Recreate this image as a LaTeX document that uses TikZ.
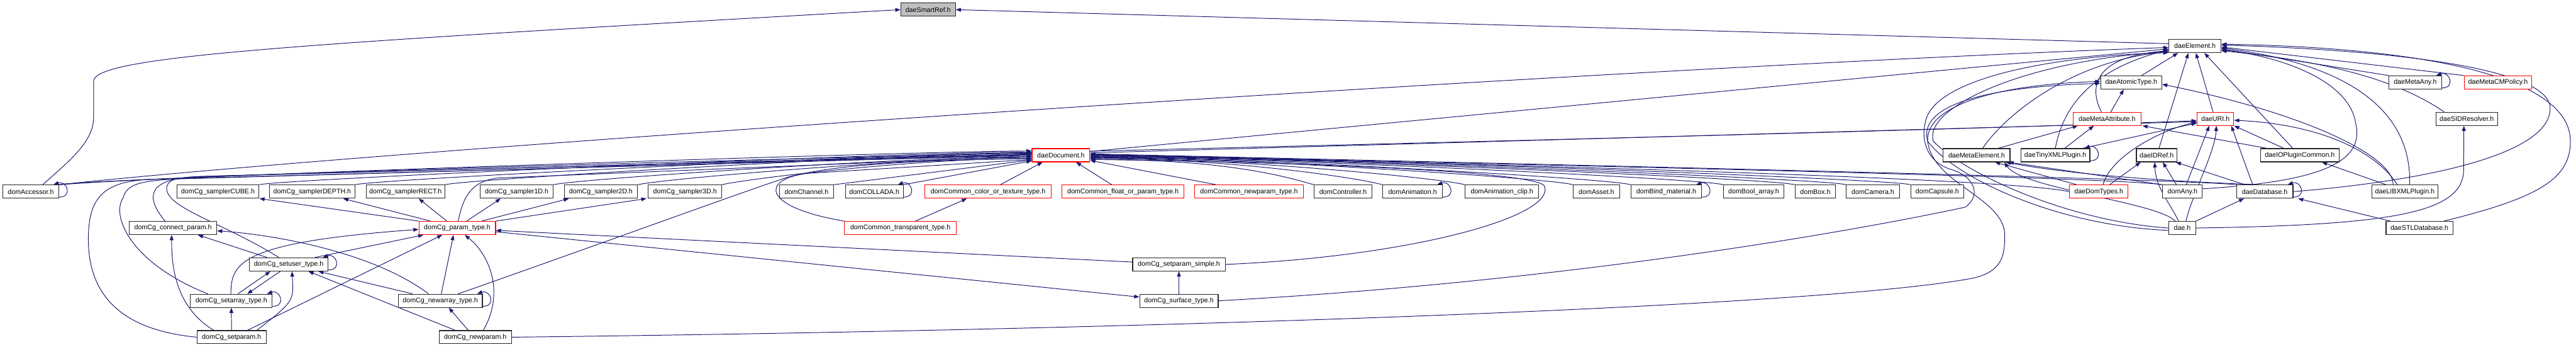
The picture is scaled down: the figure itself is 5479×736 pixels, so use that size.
\documentclass[tikz,border=0pt]{standalone}
\usepackage{fontspec}
\newfontfamily\dxf{Liberation Sans}
\usetikzlibrary{arrows.meta,backgrounds}
\definecolor{mblue}{RGB}{25,25,112}
\newcommand{\bx}[6]{\node[#1, minimum width={(#4-#3)*1pt}] (#2) at ({(#3+#4)/2},#5) {#6};}
\newcommand{\sloop}[1]{\draw[dep] ([yshift=3pt]#1.south east) .. controls +(30,0) and +(28,10) .. ([xshift=-12pt]#1.north east);}
\newcommand{\toDL}[2]{\draw[dep] (#1.north east) .. controls +(50,12) and +(-250,0) .. ([yshift=#2pt]doc.west);}
\newcommand{\toDR}[2]{\draw[dep] (#1.north west) .. controls +(-50,14) and +(300,0) .. ([yshift=#2pt]doc.east);}
\begin{document}
\begin{tikzpicture}[x=1pt,y=1pt,
  box/.style={draw=black!85,line width=1.5pt,fill=white,inner sep=0pt,minimum height=28pt,font=\dxf\fontsize{14.3}{16}\selectfont},
  rbox/.style={box,draw=red},
  gbox/.style={box,fill=black!25},
  dep/.style={draw=mblue,line width=1.3pt,-{Triangle[length=11pt,width=8pt]}}]
\useasboundingbox (0,0) rectangle (5479,-736);
% nodes
\bx{gbox}{sr}{1916}{2032}{-20.5}{daeSmartRef.h}
\bx{box}{el}{4613}{4724}{-97.8}{daeElement.h}
\bx{box}{at}{4468}{4598}{-175.1}{daeAtomicType.h}
\bx{box}{many}{5081}{5193}{-175.1}{daeMetaAny.h}
\bx{rbox}{cmp}{5241}{5385}{-175.1}{daeMetaCMPolicy.h}
\bx{rbox}{ma}{4409}{4554}{-252.4}{daeMetaAttribute.h}
\bx{rbox}{uri}{4673}{4751}{-252.4}{daeURI.h}
\bx{box}{sid}{5181}{5312}{-252.4}{daeSIDResolver.h}
\bx{rbox}{doc}{2195}{2318}{-329.7}{daeDocument.h}
\bx{box}{me}{4133}{4275}{-329.7}{daeMetaElement.h}
\bx{box}{txml}{4298}{4445}{-329.7}{daeTinyXMLPlugin.h}
\bx{box}{idref}{4544}{4630}{-329.7}{daeIDRef.h}
\bx{box}{iopc}{4808}{4975}{-329.7}{daeIOPluginCommon.h}
\bx{box}{acc}{6}{125}{-407}{domAccessor.h}
\bx{box}{scube}{376}{551}{-407}{domCg\_samplerCUBE.h}
\bx{box}{sdepth}{573}{755}{-407}{domCg\_samplerDEPTH.h}
\bx{box}{srect}{779}{946}{-407}{domCg\_samplerRECT.h}
\bx{box}{s1d}{1021}{1177}{-407}{domCg\_sampler1D.h}
\bx{box}{s2d}{1200}{1356}{-407}{domCg\_sampler2D.h}
\bx{box}{s3d}{1379}{1535}{-407}{domCg\_sampler3D.h}
\bx{box}{chan}{1658}{1773}{-407}{domChannel.h}
\bx{box}{coll}{1798}{1921}{-407}{domCOLLADA.h}
\bx{rbox}{ccol}{1967}{2236}{-407}{domCommon\_color\_or\_texture\_type.h}
\bx{rbox}{cflt}{2259}{2518}{-407}{domCommon\_float\_or\_param\_type.h}
\bx{rbox}{cnp}{2541}{2772}{-407}{domCommon\_newparam\_type.h}
\bx{box}{ctrl}{2795}{2918}{-407}{domController.h}
\bx{box}{anim}{2941}{3068}{-407}{domAnimation.h}
\bx{box}{aclip}{3116}{3273}{-407}{domAnimation\_clip.h}
\bx{box}{asset}{3346}{3445}{-407}{domAsset.h}
\bx{box}{bind}{3469}{3619}{-407}{domBind\_material.h}
\bx{box}{bool}{3666}{3794}{-407}{domBool\_array.h}
\bx{box}{nbox}{3818}{3904}{-407}{domBox.h}
\bx{box}{cam}{3927}{4040}{-407}{domCamera.h}
\bx{box}{caps}{4064}{4177}{-407}{domCapsule.h}
\bx{rbox}{dt}{4402}{4526}{-407}{daeDomTypes.h}
\bx{box}{any}{4600}{4684}{-407}{domAny.h}
\bx{box}{db}{4757}{4877}{-407}{daeDatabase.h}
\bx{box}{lib}{5045}{5185}{-407}{daeLIBXMLPlugin.h}
\bx{box}{conn}{275}{461}{-484.3}{domCg\_connect\_param.h}
\bx{rbox}{pt}{891}{1054}{-484.3}{domCg\_param\_type.h}
\bx{rbox}{ctr}{1796}{2034}{-484.3}{domCommon\_transparent\_type.h}
\bx{box}{dae}{4613}{4670}{-484.3}{dae.h}
\bx{box}{stl}{5075}{5217}{-484.3}{daeSTLDatabase.h}
\bx{box}{su}{530}{698}{-561.6}{domCg\_setuser\_type.h}
\bx{box}{sps}{2409}{2606}{-561.6}{domCg\_setparam\_simple.h}
\bx{box}{sa}{405}{579}{-638.9}{domCg\_setarray\_type.h}
\bx{box}{na}{847}{1026}{-638.9}{domCg\_newarray\_type.h}
\bx{box}{surf}{2424}{2591}{-638.9}{domCg\_surface\_type.h}
\bx{box}{sp}{419}{566}{-716.2}{domCg\_setparam.h}
\bx{box}{np}{934}{1088}{-716.2}{domCg\_newparam.h}
\begin{pgfonlayer}{background}
% top
\draw[dep] ([yshift=5pt]el.west) -- (sr.east);
\draw[dep] ([xshift=-35pt]acc.north east) .. controls (150,-340) and (199,-300) .. (199,-250) -- (199,-173) .. controls (199,-120) and (600,-95) .. (sr.west);
\sloop{acc}
\draw[dep] (acc.north east) .. controls (900,-310) and (3500,-140) .. ([yshift=-3pt]el.west);
\draw[dep] (acc.north east) .. controls (700,-350) and (3500,-300) .. ([yshift=-4pt]uri.west);
\draw[dep] ([yshift=8pt]doc.east) -- ([yshift=-6pt]el.west);
\draw[dep] ([yshift=5pt]doc.east) -- ([yshift=-6pt]uri.west);
% right cluster
\draw[dep] ([xshift=22pt]at.north) -- ([xshift=-36pt]el.south);
\draw[dep] ([xshift=8pt]ma.north) -- ([xshift=-16pt]at.south);
\draw[dep] ([xshift=-12pt]ma.north) .. controls (4440,-180) and (4460,-120) .. ([yshift=-10pt]el.west);
\draw[dep] ([xshift=-5pt]uri.north) -- ([xshift=2pt]el.south);
\draw[dep] (many.north west) -- ([yshift=-6pt]el.east);
\sloop{many}
\draw[dep] (cmp.north west) -- ([yshift=-2pt]el.east);
\draw[dep] ([xshift=-48pt]sid.north) .. controls (5100,-170) and (4950,-130) .. ([yshift=-10pt]el.east);
\draw[dep] ([xshift=13pt]me.north) .. controls (4260,-250) and (4400,-130) .. ([yshift=-12pt]el.west);
\draw[dep] ([xshift=46pt]me.north) -- ([xshift=-62pt]ma.south);
\draw[dep] (txml.north) .. controls (4387,-233) and (4440,-150) .. ([yshift=-8pt]el.west);
\draw[dep] ([xshift=20pt]txml.north) -- ([xshift=-28pt]ma.south);
\draw[dep] ([xshift=58pt]txml.north) -- ([yshift=-9pt]uri.west);
\sloop{txml}
\draw[dep] ([xshift=5pt]idref.north) -- ([xshift=-14pt]el.south);
\draw[dep] ([xshift=-15pt]iopc.north) -- ([xshift=20pt]el.south);
\draw[dep] ([xshift=-34pt]iopc.north) -- (uri.south east);
\draw[dep] ([xshift=-70pt]iopc.north) -- ([xshift=2pt]ma.south east);
\draw[dep] ([xshift=-25pt]lib.north) .. controls (5090,-330) and (4900,-240) .. ([yshift=-4pt]at.east);
\draw[dep] ([xshift=-16pt]lib.north) .. controls (5060,-330) and (4950,-265) .. ([yshift=-3pt]uri.east);
\draw[dep] ([xshift=-40pt]lib.north) -- ([xshift=47pt]iopc.south);
\draw[dep] ([xshift=10pt]lib.north) .. controls (5130,-250) and (5020,-140) .. ([yshift=-4pt]el.east);
\draw[dep] ([xshift=52pt]stl.north) .. controls (5400,-420) and (5467,-380) .. (5467,-300) .. controls (5467,-150) and (5100,-100) .. ([yshift=4pt]el.east);
\draw[dep] ([xshift=-62pt]stl.north) -- ([xshift=10pt]db.south east);
\draw[dep] (db.east) .. controls (5150,-385) and (5424,-330) .. (5424,-230) .. controls (5424,-140) and (5050,-105) .. ([yshift=2pt]el.east);
\sloop{db}
\draw[dep] ([xshift=-47pt]dt.north) -- ([xshift=39pt]me.south);
\draw[dep] ([xshift=23pt]dt.north) -- ([xshift=-34pt]idref.south);
\draw[dep] ([xshift=9pt]dt.north) .. controls (4490,-330) and (4600,-275) .. ([yshift=-7pt]uri.west);
\draw[dep] (any.north west) -- ([xshift=-4pt]me.south east);
\draw[dep] ([xshift=-13pt]any.north) -- ([xshift=13pt]idref.south);
\draw[dep] ([xshift=8pt]any.north) -- ([xshift=-13pt]uri.south);
\draw[dep] ([yshift=6pt]any.east) .. controls (4950,-385) and (5030,-340) .. (5010,-260) .. controls (4995,-170) and (4850,-120) .. ([yshift=-8pt]el.east);
\draw[dep] ([xshift=-15pt]dae.north) .. controls (4590,-430) and (4300,-400) .. ([xshift=59pt]me.south);
\draw[dep] ([xshift=-8pt]dae.north) .. controls (4615,-430) and (4585,-400) .. ([xshift=-4pt]idref.south);
\draw[dep] ([xshift=8pt]dae.north) .. controls (4660,-420) and (4712,-320) .. ([xshift=2pt]uri.south);
\draw[dep] (dae.north east) -- ([xshift=-44pt]db.south);
\draw[dep] (dae.east) .. controls (5100,-478) and (5240,-450) .. (5240,-360) -- ([xshift=-6pt]sid.south);
\draw[dep] (dae.west) .. controls (4400,-470) and (4180,-370) .. (4112,-300) .. controls (4090,-230) and (4300,-130) .. ([yshift=-12pt]el.west);
\draw[dep] ([yshift=-5pt]dae.west) .. controls (4380,-480) and (4160,-380) .. (4100,-300) .. controls (4080,-230) and (4200,-185) .. ([yshift=-2pt]at.west);
\draw[dep] ([xshift=-10pt]db.north) .. controls (4600,-385) and (4400,-370) .. ([xshift=-10pt]me.south east);
\draw[dep] ([xshift=18pt]db.north west) -- ([xshift=-3pt]idref.south east);
\draw[dep] ([xshift=35pt]db.north west) -- ([xshift=-6pt]uri.south east);
% long curves to the right cluster
\draw[dep] (surf.east) .. controls (3300,-600) and (3900,-500) .. (4180,-440) .. controls (4215,-415) and (4200,-375) .. (4150,-360) .. controls (4100,-345) and (4085,-300) .. (4095,-260) .. controls (4110,-170) and (4350,-120) .. ([yshift=-14pt]el.west);
\draw[dep] (np.east) .. controls (2500,-700) and (3900,-650) .. (4200,-590) .. controls (4260,-575) and (4264,-540) .. (4264,-500) .. controls (4264,-420) and (4110,-390) .. (4100,-300) .. controls (4095,-230) and (4230,-180) .. ([yshift=2pt]at.west);
% R5 left to daeDocument
\toDL{acc}{9}
\toDL{scube}{7}
\toDL{sdepth}{5}
\toDL{srect}{4}
\toDL{s1d}{-3}
\toDL{s2d}{-5}
\toDL{s3d}{-7}
\draw[dep] (chan.north east) -- ([yshift=-10pt]doc.west);
\draw[dep] (coll.north east) -- ([yshift=-12pt]doc.west);
\sloop{coll}
% R5 right to daeDocument
\draw[dep] ([xshift=26pt]ccol.north) -- ([xshift=-39pt]doc.south);
\draw[dep] ([xshift=-24pt]cflt.north) -- ([xshift=32pt]doc.south);
\draw[dep] ([xshift=-70pt]cnp.north) -- ([yshift=-11pt]doc.east);
\toDR{ctrl}{-9}
\toDR{anim}{-7}
\sloop{anim}
\toDR{aclip}{-6}
\toDR{asset}{-5}
\toDR{bind}{-4}
\sloop{bind}
\toDR{bool}{-3}
\toDR{nbox}{-2}
\toDR{cam}{-1}
\toDR{caps}{0}
\draw[dep] (dt.west) .. controls (4250,-375) and (3000,-345) .. ([yshift=1pt]doc.east);
\draw[dep] ([xshift=-2pt]any.north west) .. controls (4500,-375) and (3000,-345) .. ([yshift=2pt]doc.east);
\draw[dep] ([xshift=2pt]db.north west) .. controls (4600,-378) and (3100,-345) .. ([yshift=3pt]doc.east);
\draw[dep] (sps.east) .. controls (3000,-545) and (3310,-460) .. (3285,-395) .. controls (3265,-365) and (2800,-345) .. ([yshift=-9pt]doc.east);
% lower left cluster
\draw[dep] (pt.north west) -- (scube.south east);
\draw[dep] ([xshift=-57pt]pt.north) -- ([xshift=66pt]sdepth.south);
\draw[dep] ([xshift=-22pt]pt.north) -- ([xshift=28pt]srect.south);
\draw[dep] ([xshift=20pt]pt.north) -- ([xshift=-34pt]s1d.south);
\draw[dep] ([xshift=52pt]pt.north) -- ([xshift=-68pt]s2d.south);
\draw[dep] (pt.north east) -- ([xshift=-82pt]s3d.south);
\draw[dep] ([xshift=2pt]pt.north) .. controls (985,-420) and (1000,-385) .. (1060,-378) -- ([yshift=-2pt]doc.west);
\draw[dep] ([xshift=-17pt]conn.north) .. controls (310,-420) and (310,-380) .. (420,-375) -- ([yshift=3pt]doc.west);
\draw[dep] ([xshift=-21pt]su.north) .. controls (470,-470) and (345,-440) .. (355,-395) .. controls (362,-378) and (380,-377) .. (450,-374) -- ([yshift=2pt]doc.west);
\draw[dep] ([xshift=-50pt]sa.north) .. controls (280,-560) and (235,-460) .. (262,-420) .. controls (270,-390) and (300,-384) .. (380,-380) -- ([yshift=1pt]doc.west);
\draw[dep] (sp.west) .. controls (250,-700) and (185,-620) .. (188,-500) .. controls (190,-420) and (220,-385) .. (320,-381) -- (doc.west);
\draw[dep] (ctr.north west) .. controls (1620,-440) and (1615,-380) .. (1720,-368) -- ([yshift=-9pt]doc.west);
\draw[dep] ([xshift=38pt]na.north) .. controls (1300,-510) and (1600,-400) .. (1680,-375) .. controls (1800,-345) and (2000,-340) .. ([yshift=-7pt]doc.west);
\draw[dep] ([xshift=32pt]ctr.north) -- ([xshift=-45pt]ccol.south);
\draw[dep] ([xshift=-46pt]su.north) -- ([xshift=53pt]conn.south);
\draw[dep] ([xshift=56pt]su.north) -- ([xshift=-72pt]pt.south);
\sloop{su}
\draw[dep] ([xshift=14pt]sa.north) -- ([xshift=-39pt]su.south);
\draw[dep] ([xshift=-18pt]su.south) -- ([xshift=34pt]sa.north);
\draw[dep] ([xshift=-1pt]sa.north) .. controls (492,-560) and (505,-515) .. ([yshift=-3pt]pt.west);
\sloop{sa}
\draw[dep] (sp.north) -- (sa.south);
\draw[dep] ([xshift=-38pt]sp.north) .. controls (370,-650) and (365,-560) .. ([xshift=-3pt]conn.south);
\draw[dep] ([xshift=54pt]sp.north) .. controls (625,-640) .. ([xshift=7pt]su.south);
\draw[dep] ([xshift=34pt]sp.north) -- ([xshift=-32pt]pt.south);
\draw[dep] ([xshift=-59pt]na.north) -- ([xshift=63pt]su.south);
\draw[dep] ([xshift=-25pt]na.north) .. controls (800,-540) and (600,-500) .. ([yshift=-6pt]conn.east);
\draw[dep] ([xshift=2pt]na.north) -- ([xshift=-8pt]pt.south);
\sloop{na}
\draw[dep] ([xshift=-15pt]np.north) -- ([xshift=18pt]na.south);
\draw[dep] ([xshift=-43pt]np.north) -- ([xshift=42pt]su.south);
\draw[dep] ([xshift=17pt]np.north) .. controls (1075,-620) and (1040,-540) .. ([xshift=16pt]pt.south);
\draw[dep] ([yshift=5pt]sps.west) -- ([yshift=-5pt]pt.east);
\draw[dep] ([yshift=-8pt]pt.east) -- ([yshift=8pt]surf.west);
\draw[dep] (surf.north) -- (sps.south);
\end{pgfonlayer}
\end{tikzpicture}
\end{document}
